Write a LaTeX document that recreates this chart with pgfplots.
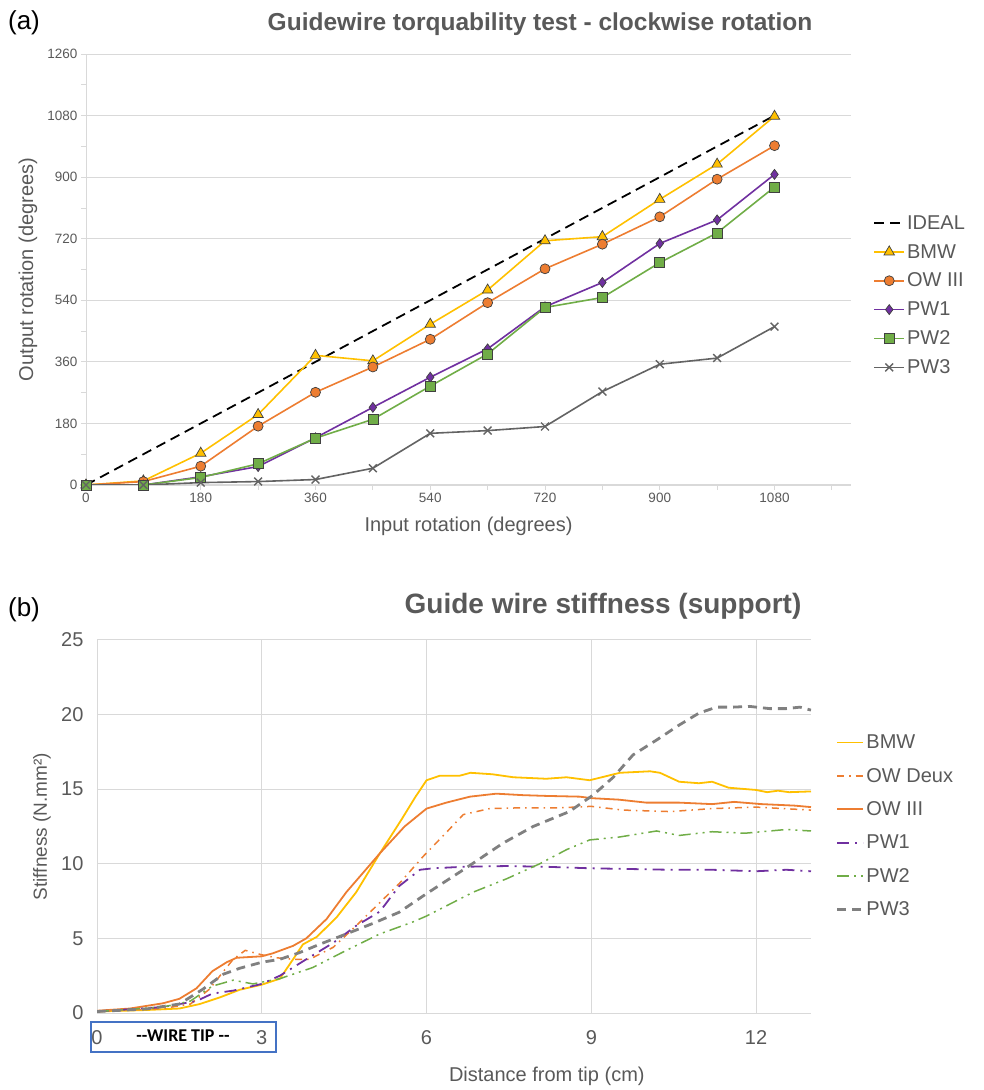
\documentclass[border=0pt]{standalone}
\usepackage{pgfplots}
\pgfplotsset{compat=1.18}
\usepackage{fontspec}
\setmainfont{Liberation Sans}
\newfontfamily\carlito{Carlito}
\definecolor{txt}{HTML}{595959}
\definecolor{grd}{HTML}{D9D9D9}
\definecolor{cBMW}{HTML}{FFC000}
\definecolor{cOW}{HTML}{ED7D31}
\definecolor{cPW1}{HTML}{7030A0}
\definecolor{cPW2}{HTML}{70AD47}
\definecolor{cPW3}{HTML}{636363}
\definecolor{cPW3b}{HTML}{808080}
\definecolor{mk}{HTML}{404040}
\definecolor{boxblue}{HTML}{4472C4}
\begin{document}
\begin{tikzpicture}[x=1pt,y=1pt]
\useasboundingbox (0,0) rectangle (984,1090);
% ---------------- (a) ----------------
\node[font=\fontsize{26}{30}\selectfont, text=black] at (24,1067) {(a)};
\node[font=\fontsize{24.5}{28}\selectfont\bfseries, text=txt] at (540,1066) {Guidewire torquability test - clockwise rotation};
\begin{axis}[
  at={(86pt,605pt)}, anchor=south west,
  width=765pt, height=431pt, scale only axis,
  xmin=0, xmax=1200, ymin=0, ymax=1260,
  axis x line=bottom, axis y line=left,
  axis line style={draw=grd, line width=1pt, -},
  xtick={0,180,...,1080}, minor xtick={90,270,...,1170},
  ytick={0,180,...,1260}, minor ytick={90,270,...,1170},
  tick align=outside, major tick length=5pt, minor tick length=5pt,
  tick style={draw=grd, line width=0.8pt}, minor tick style={draw=grd, line width=0.8pt},
  ymajorgrids, major grid style={draw=grd, line width=0.8pt},
  ticklabel style={font=\fontsize{13.5}{15}\selectfont, text=txt},
  /pgf/number format/assume math mode=true, /pgf/number format/1000 sep={},
  xlabel={Input rotation (degrees)},
  xlabel style={font=\fontsize{20}{24}\selectfont, text=txt, at={(axis description cs:0.5,-0.097)}, anchor=center},
  ylabel={Output rotation (degrees)},
  ylabel style={font=\fontsize{20}{24}\selectfont, text=txt, at={(axis description cs:-0.076,0.5)}, anchor=center},
  legend style={at={(axis description cs:1.025,0.635)}, anchor=north west, draw=none, fill=none,
    font=\fontsize{20}{23}\selectfont, text=txt, row sep=9.5pt},
  legend cell align=left,
  legend image code/.code={\draw[mark repeat=2,mark phase=2] plot coordinates {(0pt,0pt) (15pt,0pt) (30pt,0pt)};},
]
\addplot[black, line width=1.8pt, dash pattern=on 10pt off 6pt] coordinates {(0,0) (1080,1080)};
\addlegendentry{IDEAL}
\addplot[cBMW, line width=1.6pt, mark=triangle*, mark options={fill=cBMW, draw=mk, line width=0.7pt, mark size=6pt, solid}] coordinates {
(0,0) (90,12) (180,93) (270,206) (360,379) (450,363) (540,470) (630,570) (720,714) (810,726) (900,835) (990,938) (1080,1078)};
\addlegendentry{BMW}
\addplot[cOW, line width=1.6pt, mark=*, mark options={fill=cOW, draw=mk, line width=0.7pt, mark size=5pt, solid}] coordinates {
(0,0) (90,10) (180,55) (270,172) (360,271) (450,345) (540,426) (630,533) (720,632) (810,704) (900,784) (990,894) (1080,992)};
\addlegendentry{OW III}
\addplot[cPW1, line width=1.6pt, mark=diamond*, mark options={fill=cPW1, draw=mk, line width=0.7pt, mark size=5pt, solid}] coordinates {
(0,0) (90,0) (180,24) (270,54) (360,138) (450,227) (540,315) (630,398) (720,521) (810,592) (900,706) (990,775) (1080,908)};
\addlegendentry{PW1}
\addplot[cPW2, line width=1.6pt, mark=square*, mark options={fill=cPW2, draw=mk, line width=0.7pt, mark size=5pt, solid}] coordinates {
(0,0) (90,0) (180,22) (270,62) (360,137) (450,192) (540,289) (630,383) (720,519) (810,548) (900,650) (990,737) (1080,871)};
\addlegendentry{PW2}
\addplot[cPW3, line width=1.6pt, mark=x, mark options={draw=cPW3, line width=1.4pt, mark size=5.5pt, solid}] coordinates {
(0,0) (90,0) (180,7) (270,10) (360,16) (450,49) (540,151) (630,159) (720,171) (810,273) (900,353) (990,371) (1080,463)};
\addlegendentry{PW3}
\end{axis}
% ---------------- (b) ----------------
\node[font=\fontsize{26}{30}\selectfont, text=black] at (24,480) {(b)};
\node[font=\fontsize{28}{32}\selectfont\bfseries, text=txt] at (603,484) {Guide wire stiffness (support)};
\begin{axis}[
  at={(97pt,77pt)}, anchor=south west,
  width=714pt, height=373pt, scale only axis,
  xmin=0, xmax=13, ymin=0, ymax=25,
  axis x line=bottom, axis y line=left,
  axis line style={draw=grd, line width=1pt, -},
  xtick={0,3,...,12}, ytick={0,5,...,25},
  major tick length=0pt,
  grid=major, major grid style={draw=grd, line width=1pt},
  ticklabel style={font=\fontsize{20}{24}\selectfont, text=txt},
  xticklabel style={yshift=-14pt},
  yticklabel style={xshift=-10pt},
  /pgf/number format/assume math mode=true,
  xlabel={Distance from tip (cm)},
  xlabel style={font=\fontsize{20}{24}\selectfont, text=txt, at={(axis description cs:0.630,-0.171)}, anchor=center},
  ylabel={Stiffness (N.mm²)},
  ylabel style={font=\fontsize{19}{23}\selectfont, text=txt, at={(axis description cs:-0.077,0.5)}, anchor=center},
  legend style={at={(axis description cs:1.03,0.757)}, anchor=north west, draw=none, fill=none,
    font=\fontsize{20}{24}\selectfont, text=txt, row sep=14pt},
  legend cell align=left,
  legend image code/.code={\draw (0pt,0pt) -- (26pt,0pt);},
  line join=round,
]
\addplot[cBMW, line width=1.8pt] coordinates {
(0,0.1) (0.9,0.2) (1.5,0.3) (1.87,0.6) (2.24,1.05) (2.6,1.56) (3.0,1.9) (3.33,2.3) (3.57,3.6) (3.75,4.6) (4.0,5.1) (4.36,6.4) (4.72,8.1) (5.15,10.7) (5.55,13.0) (5.8,14.5) (6.0,15.6) (6.24,15.9) (6.6,15.9) (6.8,16.1) (7.2,16.0) (7.58,15.8) (8.18,15.7) (8.55,15.8) (8.97,15.6) (9.52,16.1) (10.07,16.2) (10.25,16.1) (10.6,15.5) (10.96,15.4) (11.2,15.5) (11.5,15.1) (12.0,14.95) (12.2,14.8) (12.4,14.9) (12.6,14.8) (13.0,14.85)};
\addlegendentry{BMW}
\addplot[cOW, line width=1.5pt, dash pattern=on 7pt off 5pt on 1.5pt off 5pt] coordinates {
(0,0.1) (1.2,0.3) (1.7,0.6) (2.05,1.6) (2.24,2.5) (2.48,3.6) (2.7,4.2) (3.0,3.9) (3.27,3.7) (3.57,3.6) (3.87,3.6) (4.3,4.4) (4.72,5.85) (5.15,7.4) (5.51,8.7) (5.94,10.5) (6.36,12.1) (6.67,13.3) (7.15,13.7) (7.7,13.75) (8.4,13.75) (9.0,13.85) (9.58,13.6) (10.43,13.5) (11.2,13.7) (12.0,13.8) (13.0,13.6)};
\addlegendentry{OW Deux}
\addplot[cOW, line width=1.8pt] coordinates {
(0,0.15) (0.6,0.3) (1.2,0.65) (1.5,0.95) (1.81,1.65) (2.1,2.8) (2.36,3.4) (2.54,3.7) (3.0,3.8) (3.2,4.0) (3.57,4.5) (3.81,5.0) (4.18,6.3) (4.54,8.1) (5.15,10.7) (5.6,12.5) (6.0,13.7) (6.36,14.1) (6.79,14.5) (7.27,14.7) (7.76,14.6) (8.18,14.55) (8.79,14.5) (9.0,14.4) (9.5,14.3) (10.0,14.1) (10.6,14.1) (11.2,14.0) (11.6,14.15) (12.1,14.0) (12.7,13.9) (13.0,13.8)};
\addlegendentry{OW III}
\addplot[cPW1, line width=1.8pt, dash pattern=on 12pt off 6pt on 2pt off 6pt] coordinates {
(0,0.1) (1.2,0.4) (1.81,0.8) (2.1,1.3) (2.48,1.5) (3.0,1.95) (3.33,2.5) (3.81,3.6) (4.3,4.7) (4.72,5.85) (5.15,6.8) (5.5,8.5) (5.88,9.6) (6.12,9.7) (6.67,9.8) (7.46,9.85) (8.18,9.8) (8.97,9.7) (9.7,9.65) (10.43,9.6) (11.2,9.6) (12.0,9.5) (12.55,9.6) (13.0,9.5)};
\addlegendentry{PW1}
\addplot[cPW2, line width=1.5pt, dash pattern=on 12pt off 5pt on 2pt off 5pt on 2pt off 5pt] coordinates {
(0,0.1) (1.2,0.4) (1.7,0.8) (2.1,1.8) (2.48,2.2) (2.84,1.95) (3.33,2.3) (3.93,3.05) (4.54,4.2) (5.15,5.3) (5.75,6.1) (6.0,6.5) (6.85,8.1) (7.46,9.0) (8.06,10.0) (8.55,10.95) (8.97,11.6) (9.52,11.8) (10.19,12.2) (10.6,11.9) (11.2,12.15) (11.8,12.05) (12.55,12.3) (13.0,12.2)};
\addlegendentry{PW2}
\addplot[cPW3b, line width=2.8pt, dash pattern=on 9pt off 6pt] coordinates {
(0,0.1) (0.9,0.27) (1.5,0.6) (1.93,1.6) (2.3,2.6) (2.6,3.0) (3.0,3.4) (3.33,3.6) (3.69,4.05) (4.05,4.6) (4.54,5.3) (5.02,6.0) (5.5,6.75) (6.0,8.0) (6.67,9.6) (7.4,11.4) (7.94,12.5) (8.6,13.5) (9.03,14.6) (9.4,15.8) (9.76,17.3) (10.19,18.3) (10.6,19.3) (10.96,20.1) (11.28,20.5) (11.58,20.5) (11.88,20.55) (12.25,20.4) (12.55,20.4) (12.8,20.5) (13.0,20.3)};
\addlegendentry{PW3}
\end{axis}
\draw[boxblue, line width=1.5pt] (91,38) rectangle (276,68);
\node[font=\carlito\bfseries\fontsize{18}{20}\selectfont, text=black] at (183,54) {--WIRE TIP --};
\end{tikzpicture}
\end{document}
